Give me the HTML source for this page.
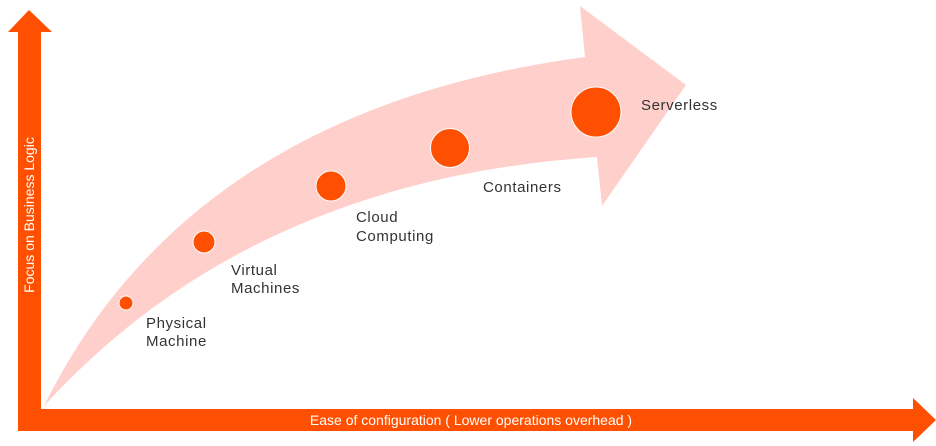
<!DOCTYPE html>
<html><head><style>
body{margin:0;background:#fff;}
svg{display:block;}
text{font-family:"Liberation Sans",sans-serif;}
</style></head><body>
<svg width="936" height="446" viewBox="0 0 936 446">
<path d="M44,406 Q190,110 585,57 L580,6 L686,85 L602,206 L597,157 Q250,180 44,406 Z" fill="#ffd0cb"/>
<rect x="18" y="31" width="23" height="400" fill="#ff4f00"/>
<polygon points="8,32 29,10 52,32" fill="#ff4f00"/>
<rect x="18" y="409" width="897" height="22" fill="#ff4f00"/>
<polygon points="913,398 936,420 913,442" fill="#ff4f00"/>
<g fill="#ff4f00" stroke="#fff" stroke-width="1">
<circle cx="126" cy="303" r="7"/>
<circle cx="204" cy="242" r="11"/>
<circle cx="331" cy="186" r="15"/>
<circle cx="450" cy="148" r="19.5"/>
<circle cx="596" cy="112" r="25"/>
</g>
<g fill="#333" font-size="15" letter-spacing="0.6">
<text x="146" y="328">Physical</text><text x="146" y="346">Machine</text>
<text x="231" y="275">Virtual</text><text x="231" y="293">Machines</text>
<text x="356" y="222">Cloud</text><text x="356" y="241">Computing</text>
<text x="483" y="192">Containers</text>
<text x="641" y="110">Serverless</text>
</g>
<text x="471" y="425" fill="#fff" font-size="14" text-anchor="middle">Ease of configuration ( Lower operations overhead )</text>
<text transform="translate(34,215) rotate(-90)" fill="#fff" font-size="14" text-anchor="middle">Focus on Business Logic</text>
</svg>
</body></html>
